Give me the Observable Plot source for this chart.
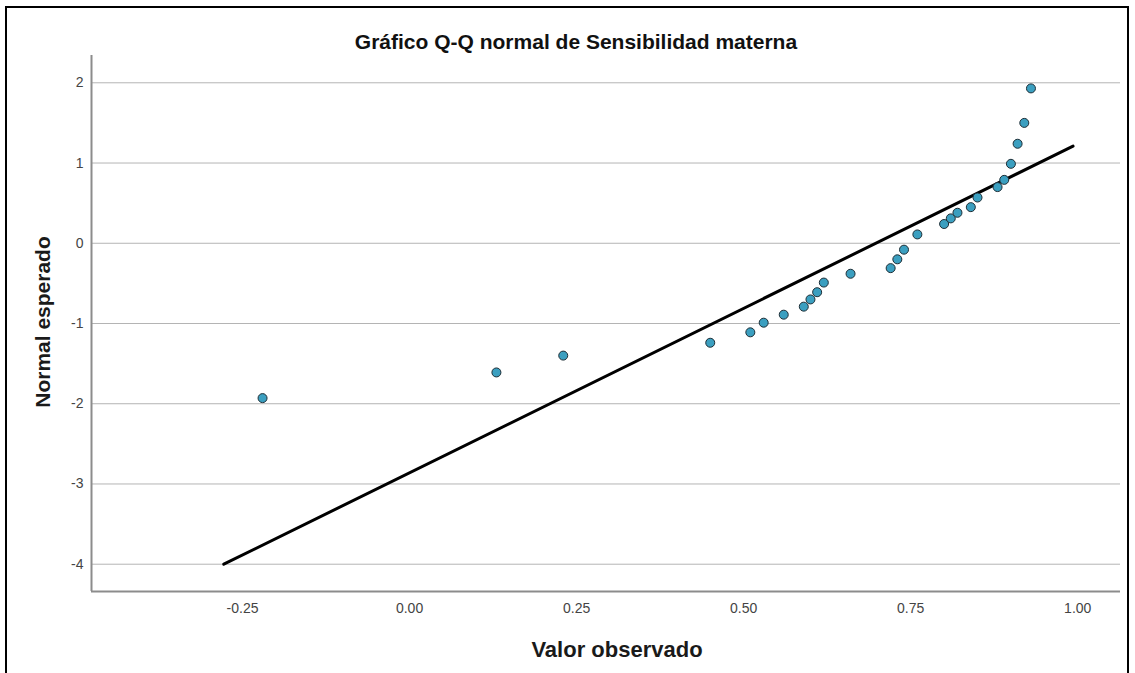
<!DOCTYPE html>
<html>
<head>
<meta charset="utf-8">
<script src="https://cdn.jsdelivr.net/npm/d3@7"></script>
<script src="https://cdn.jsdelivr.net/npm/@observablehq/plot@0.6"></script>
<style>
  html, body { margin: 0; padding: 0; background: #fff; overflow: hidden; }
  #page { position: relative; width: 1135px; height: 673px; font-family: "Liberation Sans", Arial, sans-serif; }
  #frame { position: absolute; left: 5px; top: 6px; width: 1124px; height: 720px; border: 2px solid #000; box-sizing: border-box; }
  #chart { position: absolute; left: 0; top: 0; }
  .title { position: absolute; font-weight: bold; color: #111; white-space: nowrap; }
  #t-main { left: 576px; top: 30px; transform: translateX(-50%); font-size: 21px; }
  #t-x { left: 617px; top: 637px; transform: translateX(-50%); font-size: 22px; color: #1a1a1a; }
  #t-y { left: 43px; top: 322px; transform: translate(-50%, -50%) rotate(-90deg); font-size: 21px; color: #1a1a1a; }
</style>
</head>
<body>
<div id="page">
  <div id="frame"></div>
  <div id="chart"></div>
  <div class="title" id="t-main">Gráfico Q-Q normal de Sensibilidad materna</div>
  <div class="title" id="t-x">Valor observado</div>
  <div class="title" id="t-y">Normal esperado</div>
</div>
<script>
// Observed values of "Sensibilidad materna" and their expected normal scores
const observed = [-0.22, 0.13, 0.23, 0.45, 0.51, 0.53, 0.56, 0.59, 0.60, 0.61, 0.62, 0.66, 0.72, 0.73,
                  0.74, 0.76, 0.80, 0.81, 0.82, 0.84, 0.85, 0.88, 0.89, 0.90, 0.91, 0.92, 0.93];
const expected = [-1.93, -1.61, -1.40, -1.24, -1.11, -0.99, -0.89, -0.79, -0.70, -0.61, -0.49, -0.38, -0.31, -0.20,
                  -0.08, 0.11, 0.24, 0.31, 0.38, 0.45, 0.57, 0.70, 0.79, 0.99, 1.24, 1.50, 1.93];

// Reference normal line end points
const lineX = [-0.278, 0.993];
const lineY = [-4.0, 1.21];

// Axis ticks and domains
const xTicks = [-0.25, 0, 0.25, 0.5, 0.75, 1.0];
const yTicks = [-4, -3, -2, -1, 0, 1, 2];
const xDomain = [-0.476, 1.064];
const yDomain = [-4.34, 2.34];

const points = observed.map((x, i) => ({x, y: expected[i]}));
const refLine = lineX.map((x, i) => ({x, y: lineY[i]}));

const chart = Plot.plot({
  width: 1135,
  height: 673,
  marginLeft: 91,
  marginRight: 15,
  marginTop: 55,
  marginBottom: 82,
  style: {fontFamily: "'Liberation Sans', Arial, sans-serif", fontSize: "14px", background: "transparent"},
  x: {domain: xDomain},
  y: {domain: yDomain},
  marks: [
    Plot.gridY(yTicks, {stroke: "#b4b4b4", strokeOpacity: 1}),
    Plot.ruleX([xDomain[0]], {stroke: "#8c8c8c", strokeWidth: 2}),
    Plot.ruleY([yDomain[0]], {stroke: "#8c8c8c", strokeWidth: 2}),
    Plot.axisX(xTicks, {tickSize: 0, tickPadding: 12, tickFormat: d => d.toFixed(2), fontSize: 14, fill: "#444", label: null}),
    Plot.axisY(yTicks, {tickSize: 0, tickPadding: 8, tickFormat: d => String(d), fontSize: 14, fill: "#444", label: null}),
    Plot.line(refLine, {x: "x", y: "y", stroke: "#000", strokeWidth: 3}),
    Plot.dot(points, {x: "x", y: "y", r: 4.5, fill: "#3b9fc0", stroke: "#1e2e36", strokeWidth: 1})
  ]
});
document.getElementById("chart").appendChild(chart);
</script>
</body>
</html>
